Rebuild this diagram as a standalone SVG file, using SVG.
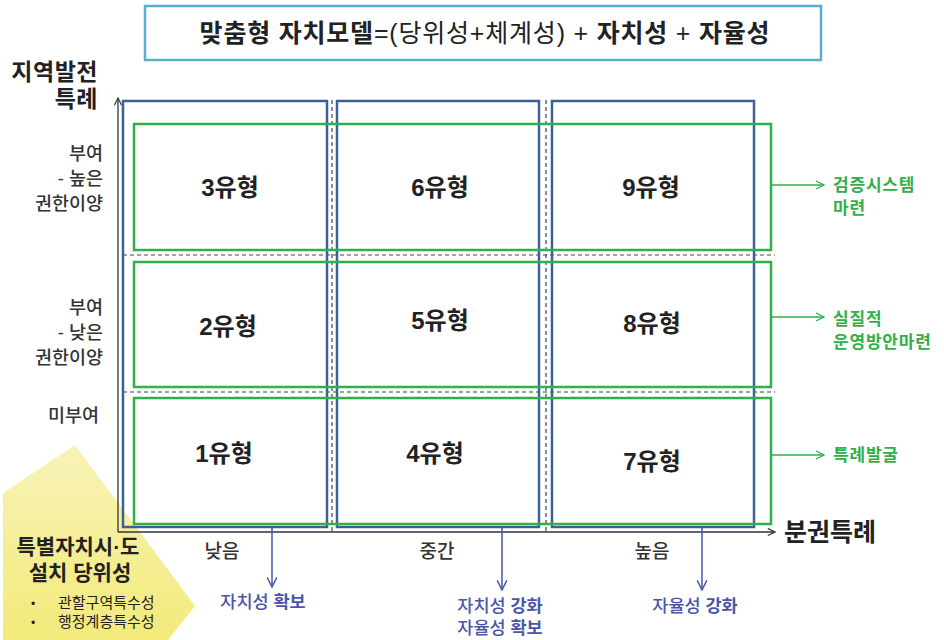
<svg xmlns="http://www.w3.org/2000/svg" width="944" height="640" viewBox="0 0 944 640">
<defs>
<linearGradient id="yel" x1="0" y1="1" x2="0" y2="0">
<stop offset="0" stop-color="#f2ea7a"/>
<stop offset="1" stop-color="#f8f3b8"/>
</linearGradient>
<marker id="ah" viewBox="0 0 10 10" refX="9" refY="5" markerWidth="9" markerHeight="9" markerUnits="userSpaceOnUse" orient="auto">
<path d="M1,1 L9,5 L1,9" fill="none" stroke="#333" stroke-width="1.3"/>
</marker>
<marker id="ahb" viewBox="0 0 10 10" refX="9" refY="5" markerWidth="12" markerHeight="12" markerUnits="userSpaceOnUse" orient="auto">
<path d="M1,1 L9,5 L1,9" fill="none" stroke="#4a55a8" stroke-width="1.2"/>
</marker>
<marker id="ahg" viewBox="0 0 10 10" refX="9" refY="5" markerWidth="10" markerHeight="10" markerUnits="userSpaceOnUse" orient="auto">
<path d="M1,1 L9,5 L1,9" fill="none" stroke="#2fb04a" stroke-width="1.3"/>
</marker>
</defs>
<style>
text{font-family:"Liberation Sans","Noto Sans CJK KR",sans-serif;}
.blk{fill:#222;}
.cell{font-size:24px;font-weight:700;fill:#222;text-anchor:middle;}
.lab{font-size:18.5px;font-weight:500;fill:#333;text-anchor:end;}
.xl{font-size:19px;font-weight:500;fill:#333;text-anchor:middle;}
.blue{fill:none;stroke:#3d6098;stroke-width:2.5;}
.green{fill:none;stroke:#2fb04a;stroke-width:2.5;}
.dash{fill:none;stroke:#444;stroke-width:1.2;stroke-dasharray:4 3;}
.bt{font-size:17.5px;fill:#4a55a8;text-anchor:middle;font-weight:500;}
.gt{font-size:17px;fill:#2fb04a;font-weight:700;letter-spacing:0.8px;}
</style>

<g id="title">
<rect x="145" y="6" width="676" height="54" fill="#fff" stroke="#5aaecb" stroke-width="2.5"/>
<text x="485" y="42" text-anchor="middle" font-size="25" letter-spacing="0.8" class="blk"><tspan font-weight="700">맞춤형 자치모델</tspan><tspan font-weight="400">=(당위성+체계성) + </tspan><tspan font-weight="700">자치성</tspan><tspan font-weight="400"> + </tspan><tspan font-weight="700">자율성</tspan></text>
</g>

<g id="yellow-note">
<polygon points="3,493 75,445 195,606 168,640 3,640" fill="url(#yel)"/>
<text text-anchor="middle" font-size="21" font-weight="700" class="blk"><tspan x="78" y="554">특별자치시·도</tspan><tspan x="80" y="580">설치 당위성</tspan></text>
<text font-size="15" class="blk"><tspan x="31" y="608" font-size="12">•</tspan><tspan x="58" y="608">관할구역특수성</tspan><tspan x="31" y="627" font-size="12">•</tspan><tspan x="58" y="627">행정계층특수성</tspan></text>
</g>

<g id="axis-labels">
<text text-anchor="end" font-size="23" font-weight="700" letter-spacing="0.5" class="blk"><tspan x="98" y="80">지역발전</tspan><tspan x="98" y="107">특례</tspan></text>
<text class="lab"><tspan x="103" y="160">부여</tspan><tspan x="103" y="185">- 높은</tspan><tspan x="103" y="210">권한이양</tspan></text>
<text class="lab"><tspan x="103" y="314">부여</tspan><tspan x="103" y="339">- 낮은</tspan><tspan x="103" y="364">권한이양</tspan></text>
<text x="99" y="422" class="lab">미부여</text>
<text x="222" y="558" class="xl">낮음</text>
<text x="437" y="558" class="xl">중간</text>
<text x="652" y="558" class="xl">높음</text>
<text x="784" y="541" font-size="25" font-weight="700" class="blk">분권특례</text>
</g>

<g id="connectors">
<line x1="118" y1="532" x2="118" y2="98" stroke="#333" stroke-width="1.3" marker-end="url(#ah)"/>
<line x1="118" y1="532" x2="775" y2="532" stroke="#333" stroke-width="1.3" marker-end="url(#ah)"/>
<line x1="332" y1="100" x2="332" y2="533" class="dash"/>
<line x1="546" y1="100" x2="546" y2="533" class="dash"/>
<line x1="123" y1="255" x2="775" y2="255" class="dash"/>
<line x1="123" y1="392" x2="775" y2="392" class="dash"/>
<line x1="272" y1="527" x2="272" y2="587" stroke="#4a55a8" stroke-width="1.5" marker-end="url(#ahb)"/>
<line x1="502" y1="527" x2="502" y2="590" stroke="#4a55a8" stroke-width="1.5" marker-end="url(#ahb)"/>
<line x1="702" y1="527" x2="702" y2="590" stroke="#4a55a8" stroke-width="1.5" marker-end="url(#ahb)"/>
<line x1="772" y1="185" x2="824" y2="185" stroke="#2fb04a" stroke-width="1.5" marker-end="url(#ahg)"/>
<line x1="772" y1="317" x2="824" y2="317" stroke="#2fb04a" stroke-width="1.5" marker-end="url(#ahg)"/>
<line x1="772" y1="455" x2="824" y2="455" stroke="#2fb04a" stroke-width="1.5" marker-end="url(#ahg)"/>
</g>

<g id="col-low"><rect x="123" y="101" width="204" height="426" class="blue"/></g>
<g id="col-mid"><rect x="337" y="101" width="202" height="426" class="blue"/></g>
<g id="col-high"><rect x="552" y="101" width="202" height="426" class="blue"/></g>

<g id="row-high"><rect x="134" y="124" width="637" height="126" class="green"/></g>
<g id="row-low"><rect x="134" y="262" width="637" height="125" class="green"/></g>
<g id="row-none"><rect x="134" y="398" width="637" height="126" class="green"/></g>

<g id="type3"><text x="230" y="196" class="cell">3유형</text></g>
<g id="type6"><text x="440" y="196" class="cell">6유형</text></g>
<g id="type9"><text x="651" y="196" class="cell">9유형</text></g>
<g id="type2"><text x="228" y="335" class="cell">2유형</text></g>
<g id="type5"><text x="440" y="329" class="cell">5유형</text></g>
<g id="type8"><text x="652" y="332" class="cell">8유형</text></g>
<g id="type1"><text x="224" y="462" class="cell">1유형</text></g>
<g id="type4"><text x="435" y="462" class="cell">4유형</text></g>
<g id="type7"><text x="652" y="470" class="cell">7유형</text></g>

<g id="blue-labels">
<text x="263" y="608" class="bt">자치성 <tspan font-weight="700">확보</tspan></text>
<text class="bt"><tspan x="500" y="612">자치성 </tspan><tspan font-weight="700">강화</tspan><tspan x="500" y="634">자율성 </tspan><tspan font-weight="700">확보</tspan></text>
<text x="695" y="612" class="bt">자율성 <tspan font-weight="700">강화</tspan></text>
</g>

<g id="green-labels">
<text class="gt"><tspan x="833" y="191">검증시스템</tspan><tspan x="833" y="214">마련</tspan></text>
<text class="gt"><tspan x="833" y="325">실질적</tspan><tspan x="833" y="348">운영방안마련</tspan></text>
<text x="833" y="461" class="gt">특례발굴</text>
</g>
</svg>
